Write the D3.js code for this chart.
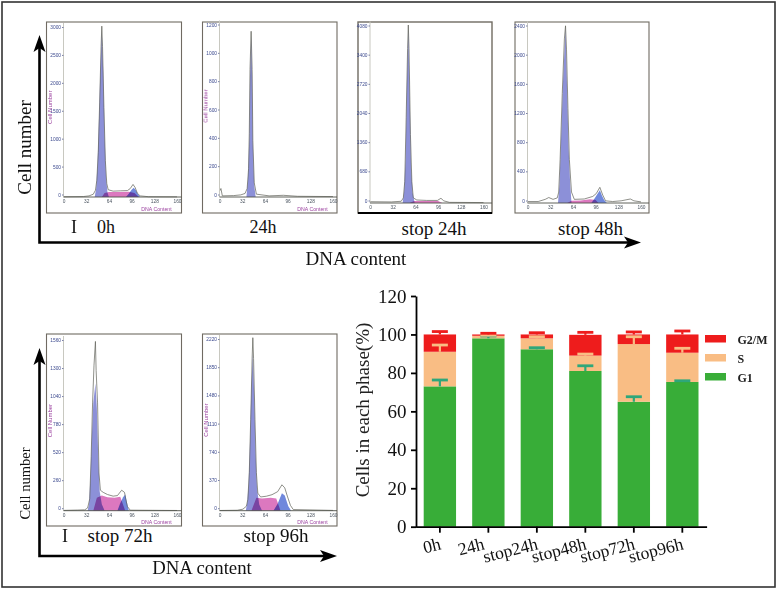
<!DOCTYPE html>
<html><head><meta charset="utf-8">
<script src="https://cdn.jsdelivr.net/npm/d3@7/dist/d3.min.js"></script>
<style>html,body{margin:0;padding:0;background:#fff}svg{display:block}text{font-family:"Liberation Serif",serif}.h text{font-family:"Liberation Sans",sans-serif}</style>
</head><body><svg id="c" width="778" height="593"></svg>
<script>
// ---------- stacked bar data ----------
const categories=["0h","24h","stop24h","stop48h","stop72h","stop96h"];
const phases=["G1","S","G2/M"];
const g1=[73,98,92.3,81,65,75.3];
const s=[18,1.3,5.7,8,30,15.2];
const g2m=[9,0.7,2,10.8,5,9.5];
const g1Err=[3.3,1.2,0.8,2.7,2.6,0.6];
const sErr=[3.5,0.3,0.8,0.8,3.8,2.3];
const g2mErr=[1.5,0.6,0.9,1.3,1.3,1.8];
const barTicks=[0,20,40,60,80,100,120];
// ---------- histogram data: [DNA channel, cell count] ----------
const xTicks=[0,32,64,96,128,160];
const t0h=[3000,2500,2000,1500,1000,500,0];
const t24h=[1200,1000,800,600,400,200,0];
const tS24=[4080,3400,2720,2040,1360,680,0];
const tS48=[2400,2000,1600,1200,800,400,0];
const tS72=[1560,1300,1040,780,520,260,0];
const tS96=[2220,1850,1480,1110,740,370,0];

const out0h=[[0,5],[28,8],[36,20],[42,50],[45,120],[47,300],[49,800],[51,1700],[53,2700],[54,3060],[55,2700],[57,1600],[59,650],[61,240],[63,130],[70,105],[80,110],[90,115],[94,150],[98,225],[101,170],[104,70],[108,20],[120,5],[160,3]];
const g10h=[[44,0],[46,150],[48,600],[50,1400],[52,2300],[54,2980],[56,2250],[58,1100],[60,350],[62,80],[64,0]];
const sp0h=[[54,0],[58,70],[64,90],[80,90],[92,95],[100,70],[106,0]];
const g20h=[[88,0],[92,60],[96,130],[99,165],[102,120],[105,50],[108,0]];

const out24=[[0,40],[2,60],[4,8],[20,10],[30,15],[36,25],[39,60],[41,200],[42,450],[43,900],[44.6,1170],[46,900],[47,400],[49,100],[52,20],[70,8],[90,12],[110,5],[160,3]];
const g124=[[38,0],[40,120],[42,420],[43,850],[44.6,1140],[46,860],[47,380],[49,80],[51,0]];

const outS24=[[0,30],[30,25],[44,40],[47,120],[49,500],[51,2000],[53,3600],[54,4150],[55,3600],[57,1600],[59,500],[61,120],[66,70],[80,60],[95,60],[100,110],[104,50],[112,15],[160,10]];
const g1S24=[[46,0],[48,250],[50,1000],[52,2800],[54,4100],[56,2500],[58,800],[60,250],[63,0]];
const spS24=[[56,0],[62,45],[80,45],[96,45],[102,0]];

const outS48=[[0,20],[15,20],[25,50],[30,75],[36,50],[42,70],[44,150],[46,600],[49,1500],[52,2250],[53.6,2430],[55,2100],[57,1300],[59,600],[62,150],[66,50],[80,55],[92,90],[97,130],[102,215],[106,110],[110,30],[120,20],[132,30],[145,55],[150,30],[160,15]];
const g1S48=[[43,0],[45,250],[47,800],[50,1650],[53.6,2400],[56,1500],[58,750],[60,300],[62,0]];
const spS48=[[56,0],[62,30],[75,35],[88,50],[96,40],[100,0]];
const g2S48=[[90,0],[95,70],[99,130],[102,175],[105,100],[108,40],[112,0]];

const outS72=[[0,3],[20,6],[30,8],[34,25],[37,110],[39,500],[41,1000],[43,1350],[45,1570],[46,1300],[48,1000],[50,350],[52,190],[56,170],[62,150],[70,135],[76,140],[82,190],[86,170],[88,100],[90,40],[94,5],[160,2]];
const g1S72=[[34,0],[36,60],[38,320],[40,700],[42,1000],[45,1180],[47,950],[49,500],[51,180],[54,60],[58,0]];
const spS72=[[42,0],[47,120],[54,140],[62,125],[72,120],[80,130],[87,0]];
const g2S72=[[76,0],[80,70],[84,125],[87,150],[90,60],[92,0]];

const outS96=[[0,3],[25,6],[33,20],[38,60],[40,150],[42,500],[44,1200],[46,2000],[47,2270],[48,2000],[50,1200],[52,500],[54,230],[58,180],[66,190],[74,210],[82,250],[88,340],[92,300],[96,180],[100,70],[104,15],[160,4]];
const g1S96=[[37,0],[39,100],[41,350],[43,900],[45,1650],[47,2060],[49,1500],[51,750],[53,280],[56,80],[60,0]];
const spS96=[[45,0],[52,170],[60,160],[72,170],[80,160],[86,0]];
const g2S96=[[76,0],[82,90],[88,230],[92,200],[97,60],[101,0]];

const panels=[
 {label:"0h",ticks:t0h,out:out0h,g1:g10h,sp:sp0h,g2:g20h},
 {label:"24h",ticks:t24h,out:out24,g1:g124,sp:[],g2:[]},
 {label:"stop 24h",ticks:tS24,out:outS24,g1:g1S24,sp:spS24,g2:[]},
 {label:"stop 48h",ticks:tS48,out:outS48,g1:g1S48,sp:spS48,g2:g2S48},
 {label:"stop 72h",ticks:tS72,out:outS72,g1:g1S72,sp:spS72,g2:g2S72},
 {label:"stop 96h",ticks:tS96,out:outS96,g1:g1S96,sp:spS96,g2:g2S96}
];
// ---------- layout ----------
const boxes=[
 {x:46.5,y:22,w:135,h:191,left:63.5,base:197,topPx:29.5,capX:106,capY:233,capSize:18,names:true},
 {x:202.5,y:22,w:134.5,h:191,left:219.5,base:197,topPx:27,capX:263,capY:233,capSize:18,names:true},
 {x:358,y:22,w:134,h:191,left:370,base:203,topPx:28,capX:434,capY:235,capSize:19,heavy:true},
 {x:515,y:22,w:134,h:191,left:527.5,base:203,topPx:28,capX:590.5,capY:235,capSize:19},
 {x:46.5,y:334,w:135,h:192,left:63.5,base:510.7,topPx:342.5,capX:120,capY:542,capSize:19,names:true},
 {x:202.5,y:334,w:134.5,h:192,left:219.5,base:510.7,topPx:341.5,capX:276,capY:542,capSize:19,names:true}
];
const xLabelShift=[0,-5,0,0,0,0];
const svg=d3.select("#c");
const defs=svg.append("defs");
defs.append("filter").attr("id","soft").append("feGaussianBlur").attr("stdDeviation",0.35);
svg.append("rect").attr("x",2).attr("y",2).attr("width",773).attr("height",585).attr("fill","none").attr("stroke","#333").attr("stroke-width",1.6);

const area=(x,y,b)=>d3.area().x(d=>x(d[0])).y0(b).y1(d=>y(d[1]));
panels.forEach((p,i)=>{
 const b=boxes[i];
 const g=svg.append("g").attr("class","h");
 const pg=g.append("g").attr("filter","url(#soft)");
 pg.append("rect").attr("x",b.x).attr("y",b.y).attr("width",b.w).attr("height",b.h).attr("fill","#fff").attr("stroke","#6f6b62").attr("stroke-width",b.heavy?1.4:1.1);
 if(b.heavy) pg.append("line").attr("x1",b.x).attr("x2",b.x+b.w).attr("y1",b.y+b.h).attr("y2",b.y+b.h).attr("stroke","#000").attr("stroke-width",2.2);
 const x=d3.scaleLinear().domain([0,160]).range([b.left,b.left+113.5]);
 const y=d3.scaleLinear().domain([0,p.ticks[0]]).range([b.base,b.topPx]);
 const a=area(x,y,b.base);
 pg.append("path").datum(p.g1).attr("d",a).attr("fill","#8c90d8");
 if(p.sp.length) pg.append("path").datum(p.sp).attr("d",a).attr("fill","#dc78bf").style("mix-blend-mode","multiply");
 if(p.g2.length) pg.append("path").datum(p.g2).attr("d",a).attr("fill","#6f88dc").style("mix-blend-mode","multiply");
 pg.append("path").datum(p.out).attr("d",d3.line().x(d=>x(d[0])).y(d=>y(d[1]))).attr("fill","none").attr("stroke","#5f6058").attr("stroke-width",0.7);
 // axes
 const ya=d3.axisLeft(y).tickValues(p.ticks).tickFormat(d3.format("d")).tickSize(1.5).tickPadding(1);
 const ay=pg.append("g").attr("transform",`translate(${b.left},-2.5)`).call(ya);
 ay.selectAll("text").attr("font-size",4.8).attr("fill","#3c4a8e");
 ay.selectAll("line").attr("stroke","#7a80a8");
 ay.select(".domain").attr("stroke","#c8c8c0").attr("d",`M0,${b.topPx-4}V${b.base+2.5}`);
 const xa=d3.axisBottom(x).tickValues(xTicks).tickFormat(d3.format("d")).tickSize(0).tickPadding(3);
 const ax=pg.append("g").attr("transform",`translate(0,${b.base})`).call(xa);
 ax.selectAll("text").attr("font-size",4.8).attr("fill","#4b5560");
 ax.select(".domain").attr("stroke","#4e5048").attr("stroke-width",0.9).attr("d",`M${b.left},0H${b.x+b.w}`);
 if(b.names){
  pg.append("text").attr("x",b.left+93).attr("y",b.base+13.5).attr("text-anchor","middle").attr("font-size",5.2).attr("fill","#9a3f9e").text("DNA Content");
  pg.append("text").attr("transform",`translate(${b.left-12},${(b.base+b.topPx)/2-6}) rotate(-90)`).attr("text-anchor","middle").attr("font-size",6).attr("fill","#9a3f9e").text("Cell Number");
 }
 svg.append("text").attr("x",b.capX).attr("y",b.capY).attr("text-anchor","middle").attr("font-size",b.capSize).attr("fill","#111").text(p.label);
});
// Annotations and big axis arrows
const ann=[["I",74,233,18],["I",65,542,18]];
ann.forEach(d=>svg.append("text").attr("x",d[1]).attr("y",d[2]).attr("text-anchor","middle").attr("font-size",d[3]).attr("fill","#111").text(d[0]));
const big=(x0,yTop,yBot,xEnd)=>{
 svg.append("path").attr("d",`M${x0},${yTop+8}V${yBot}H${xEnd-8}`).attr("fill","none").attr("stroke","#000").attr("stroke-width",2.6);
 svg.append("path").attr("d",`M${x0},${yTop}L${x0+6},${yTop+17}L${x0},${yTop+13}L${x0-6},${yTop+17}Z`).attr("fill","#000");
 svg.append("path").attr("d",`M${xEnd},${yBot}L${xEnd-17},${yBot-6}L${xEnd-13},${yBot}L${xEnd-17},${yBot+6}Z`).attr("fill","#000");
};
big(39.5,35,242.5,641);
big(39.5,348,556,337);
svg.append("text").attr("transform","translate(31,147.5) rotate(-90)").attr("text-anchor","middle").attr("font-size",19).attr("fill","#111").text("Cell number");
svg.append("text").attr("transform","translate(30,483.5) rotate(-90)").attr("text-anchor","middle").attr("font-size",14.5).attr("fill","#111").text("Cell number");
svg.append("text").attr("x",356).attr("y",265).attr("text-anchor","middle").attr("font-size",19).attr("fill","#111").text("DNA content");
svg.append("text").attr("x",202).attr("y",574).attr("text-anchor","middle").attr("font-size",18.8).attr("fill","#111").text("DNA content");

// ---------- Bar chart ----------
const bx=d3.scaleBand().domain(categories).range([415.6,706.6]).paddingInner(0.333).paddingOuter(0.167);
const by=d3.scaleLinear().domain([0,120]).range([526.7,296]);
const cols={G1:"#39ad38",S:"#f9bd84","G2/M":"#ee1c1c"};
const errCols={G1:"#2ea77a",S:"#f9bd84","G2/M":"#ee1c1c"};
const rows=categories.map((c,i)=>({c,G1:g1[i],S:s[i],"G2/M":g2m[i]}));
const stack=d3.stack().keys(phases)(rows);
const errs={G1:g1Err,S:sErr,"G2/M":g2mErr};
const bg=svg.append("g").attr("filter","url(#soft)");
stack.forEach(ser=>{
 bg.selectAll(null).data(ser).enter().append("rect")
  .attr("x",d=>bx(d.data.c)).attr("width",bx.bandwidth())
  .attr("y",d=>by(d[1])).attr("height",d=>by(d[0])-by(d[1])).attr("fill",cols[ser.key]);
});
stack.forEach(ser=>{
 const col=errCols[ser.key],e=errs[ser.key];
 ser.forEach((d,i)=>{
  const cx=bx(d.data.c)+bx.bandwidth()/2;
  bg.append("line").attr("x1",cx).attr("x2",cx).attr("y1",by(d[1])).attr("y2",by(d[1]+e[i])).attr("stroke",col).attr("stroke-width",2.2);
  bg.append("line").attr("x1",cx-8).attr("x2",cx+8).attr("y1",by(d[1]+e[i])).attr("y2",by(d[1]+e[i])).attr("stroke",col).attr("stroke-width",2.8);
 });
});
const axY=svg.append("g").attr("transform","translate(416,0)").call(d3.axisLeft(by).tickValues(barTicks).tickSize(5).tickPadding(4.5).tickSizeOuter(0));
axY.selectAll("text").attr("font-size",19).attr("fill","#111");
axY.selectAll("line,path").attr("stroke","#000").attr("stroke-width",1.8);
const axX=svg.append("g").attr("transform","translate(0,526.7)").call(d3.axisBottom(bx).tickSize(6).tickSizeOuter(0));
axX.selectAll("line,path").attr("stroke","#000").attr("stroke-width",1.8);
axX.selectAll("text").attr("font-size",17.6).attr("fill","#111").attr("text-anchor","end").attr("transform",(d,i)=>`translate(${2+xLabelShift[i]},22.5) rotate(-14)`).attr("dy",0).attr("y",0).attr("x",0);
svg.append("text").attr("transform","translate(369,410) rotate(-90)").attr("text-anchor","middle").attr("font-size",19).attr("fill","#222").text("Cells in each phase(%)");
// Legend
[...phases].reverse().forEach((k,i)=>{
 const y=335+i*19;
 svg.append("rect").attr("x",705).attr("y",y).attr("width",21).attr("height",7.5).attr("fill",cols[k]);
 svg.append("text").attr("x",737.5).attr("y",y+8.5).attr("font-size",12).attr("font-weight","bold").attr("fill","#222").text(k);
});
</script></body></html>
